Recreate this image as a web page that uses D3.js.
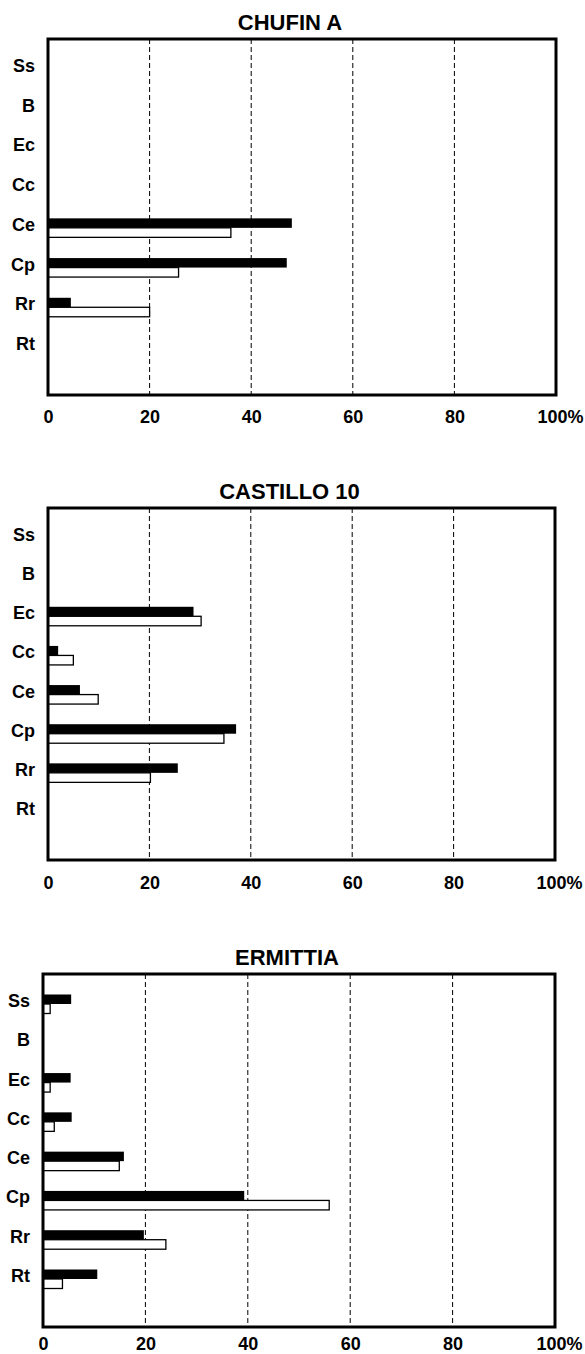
<!DOCTYPE html>
<html>
<head>
<meta charset="utf-8">
<script src="https://cdnjs.cloudflare.com/ajax/libs/d3/7.8.5/d3.min.js"></script>
<style>
  body { margin: 0; background: #fff; }
  svg { display: block; font-family: "Liberation Sans", Arial, sans-serif; font-weight: bold; }
</style>
</head>
<body>
<svg id="chart" width="585" height="1354"></svg>
<script>
const categories = ['Ss', 'B', 'Ec', 'Cc', 'Ce', 'Cp', 'Rr', 'Rt']
const tickValues = [0, 20, 40, 60, 80, 100]
const titles = ['CHUFIN A', 'CASTILLO 10', 'ERMITTIA']

// black bars (upper) and open bars (lower), in %
const chufinBlack   = [0, 0, 0, 0, 48, 47, 4.5, 0]
const chufinOpen    = [0, 0, 0, 0, 36, 25.7, 20, 0]
const castilloBlack = [0, 0, 28.7, 2, 6.3, 37.1, 25.6, 0]
const castilloOpen  = [0, 0, 30.2, 5, 9.9, 34.7, 20.2, 0]
const ermittiaBlack = [5.5, 0, 5.4, 5.6, 15.8, 39.3, 19.7, 10.6]
const ermittiaOpen  = [1.4, 0, 1.4, 2.2, 14.9, 55.9, 24, 3.8]

const panels = [
  {title: titles[0], black: chufinBlack, open: chufinOpen, left: 48, right: 556, top: 39, bottom: 395, tickY: 28},
  {title: titles[1], black: castilloBlack, open: castilloOpen, left: 48, right: 555, top: 508, bottom: 860, tickY: 29},
  {title: titles[2], black: ermittiaBlack, open: ermittiaOpen, left: 43, right: 555, top: 974, bottom: 1327, tickY: 23}
]

const svg = d3.select('#chart')
const barH = 9.5

function drawPanel(p) {
  const g = svg.append('g')

  const x = d3.scaleLinear().domain([0, 100]).range([p.left, p.right])
  // y gives the line where black bar meets open bar
  const y = d3.scalePoint().domain(categories).range([p.top + 30, p.bottom - 48])

  // dashed grid
  g.append('g')
    .selectAll('line')
    .data(tickValues.slice(1, -1))
    .join('line')
      .attr('x1', d => x(d)).attr('x2', d => x(d))
      .attr('y1', p.top).attr('y2', p.bottom)
      .attr('stroke', '#000')
      .attr('stroke-width', 1)
      .attr('stroke-dasharray', '5,3')

  // open bars
  g.append('g')
    .selectAll('rect')
    .data(categories.map((c, i) => ({c, v: p.open[i]})).filter(d => d.v > 0))
    .join('rect')
      .attr('x', x(0))
      .attr('y', d => y(d.c))
      .attr('width', d => x(d.v) - x(0))
      .attr('height', barH)
      .attr('fill', '#fff')
      .attr('stroke', '#000')
      .attr('stroke-width', 1.3)

  // black bars
  g.append('g')
    .selectAll('rect')
    .data(categories.map((c, i) => ({c, v: p.black[i]})).filter(d => d.v > 0))
    .join('rect')
      .attr('x', x(0))
      .attr('y', d => y(d.c) - barH)
      .attr('width', d => x(d.v) - x(0))
      .attr('height', barH)
      .attr('fill', '#000')

  // frame
  g.append('rect')
    .attr('x', p.left).attr('y', p.top)
    .attr('width', p.right - p.left).attr('height', p.bottom - p.top)
    .attr('fill', 'none')
    .attr('stroke', '#000')
    .attr('stroke-width', 3)

  // category labels
  g.append('g')
    .selectAll('text')
    .data(categories)
    .join('text')
      .attr('x', p.left - 13)
      .attr('y', d => y(d) - 3)
      .attr('text-anchor', 'end')
      .attr('dominant-baseline', 'central')
      .attr('font-size', 18)
      .text(d => d)

  // x axis labels
  const axis = g.append('g')
    .attr('transform', 'translate(0,' + p.bottom + ')')
    .call(d3.axisBottom(x).tickValues(tickValues).tickSize(0)
      .tickFormat(d => d === 100 ? '100%' : d))
  axis.select('.domain').remove()
  axis.selectAll('text')
    .attr('y', p.tickY)
    .attr('dy', 0)
    .attr('font-size', 18)
    .attr('font-weight', 'bold')
    .attr('font-family', '"Liberation Sans", Arial, sans-serif')
    .attr('fill', '#000')
    .attr('dx', d => d === 100 ? 4 : 0)

  // title
  g.append('text')
    .attr('x', (p.left + p.right) / 2 - 12)
    .attr('y', p.top - 9)
    .attr('text-anchor', 'middle')
    .attr('font-size', 22)
    .text(p.title)
}

panels.forEach(drawPanel)
</script>
</body>
</html>
